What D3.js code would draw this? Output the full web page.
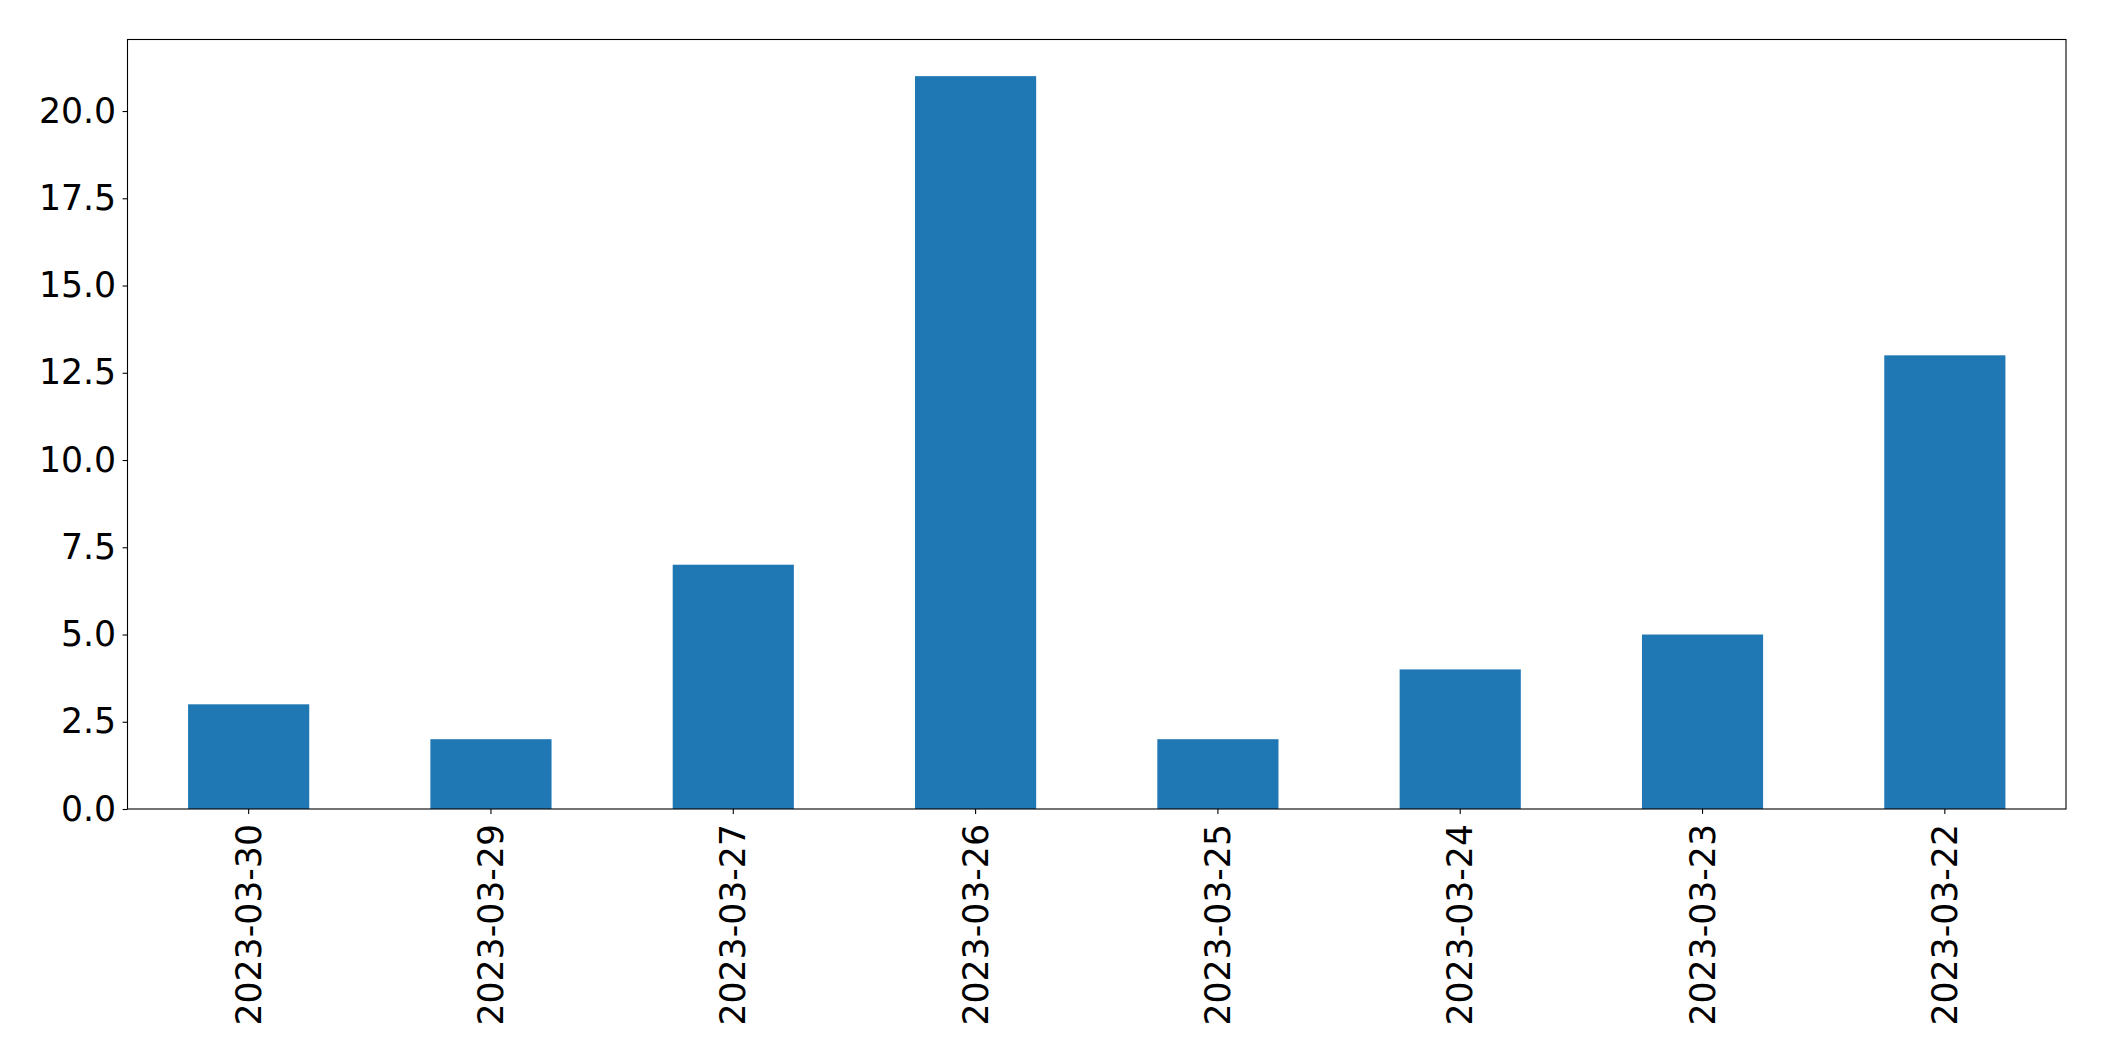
<!DOCTYPE html>
<html>
<head>
<meta charset="utf-8">
<script src="https://cdn.jsdelivr.net/npm/d3@7"></script>
<style>
  html, body { margin: 0; padding: 0; background: #fff; }
  svg { display: block; }
</style>
</head>
<body>
<svg id="chart" width="2104" height="1061"></svg>
<script>
const categories = ["2023-03-30", "2023-03-29", "2023-03-27", "2023-03-26", "2023-03-25", "2023-03-24", "2023-03-23", "2023-03-22"];
const values = [3, 2, 7, 21, 2, 4, 5, 13];
const yTicks = [0, 2.5, 5, 7.5, 10, 12.5, 15, 17.5, 20];

const W = 2104, H = 1061;
const margin = { left: 127.5, right: 2104 - 2066, top: 39.5, bottom: 1061 - 809 };
const svg = d3.select("#chart");
const plotW = W - margin.left - margin.right;
const plotH = H - margin.top - margin.bottom;

const x = d3.scaleBand().domain(categories).range([margin.left, margin.left + plotW]).paddingInner(0.5).paddingOuter(0.25);
const yMax = d3.max(values) * 1.05;
const y = d3.scaleLinear().domain([0, yMax]).range([margin.top + plotH, margin.top]);

const font = "'DejaVu Sans', sans-serif";
const fs = 34.7;

svg.append("g").selectAll("rect").data(values).join("rect")
  .attr("x", (d, i) => x(categories[i]))
  .attr("width", x.bandwidth())
  .attr("y", d => y(d))
  .attr("height", d => y(0) - y(d))
  .attr("fill", "#1f77b4");

// frame
svg.append("rect")
  .attr("x", margin.left).attr("y", margin.top)
  .attr("width", plotW).attr("height", plotH)
  .attr("fill", "none").attr("stroke", "#000").attr("stroke-width", 1.1);

const yAxis = svg.append("g")
  .attr("transform", `translate(${margin.left},0)`)
  .call(d3.axisLeft(y).tickValues(yTicks).tickFormat(d3.format(".1f")).tickSize(4.9).tickPadding(6.5));
yAxis.select(".domain").remove();
yAxis.selectAll("line").attr("stroke", "#000").attr("stroke-width", 1.1);
yAxis.selectAll("text").attr("font-family", font).attr("font-size", fs).attr("fill", "#000");

const xAxis = svg.append("g")
  .attr("transform", `translate(0,${margin.top + plotH})`)
  .call(d3.axisBottom(x).tickSize(4.9).tickPadding(4.9));
xAxis.select(".domain").remove();
xAxis.selectAll("line").attr("stroke", "#000").attr("stroke-width", 1.1);
xAxis.selectAll("text")
  .attr("font-family", font).attr("font-size", fs).attr("fill", "#000")
  .attr("text-anchor", "end")
  .attr("dy", null)
  .attr("dominant-baseline", "central")
  .attr("transform", "translate(0,15) rotate(-90)")
  .attr("y", 0).attr("x", 0);
</script>
</body>
</html>
